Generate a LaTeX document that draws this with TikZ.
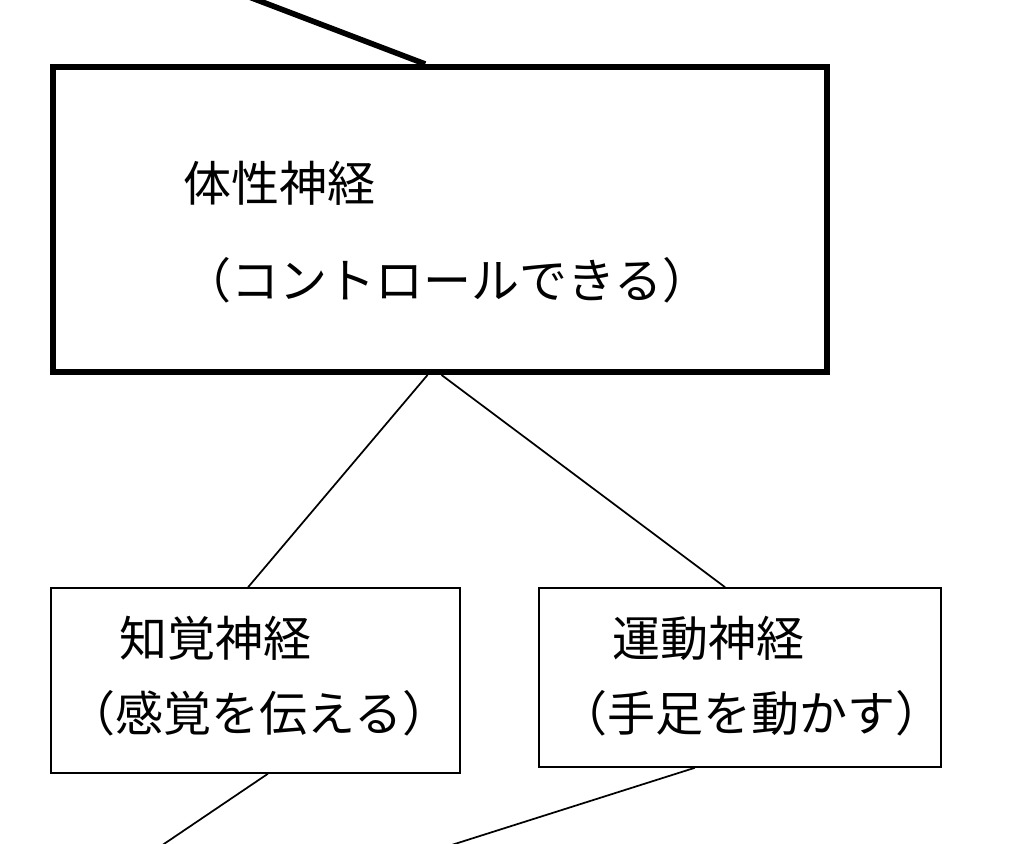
\documentclass[tikz,border=0pt]{standalone}
\usepackage{fontspec}
\setmainfont{Noto Sans CJK JP}
\usetikzlibrary{calc}
\begin{document}
\begin{tikzpicture}[x=0.75pt,y=-0.75pt,
  bigbox/.style={draw,line width=4.5pt,rectangle,inner sep=0pt,minimum width=580.5pt,minimum height=228.75pt},
  smallbox/.style={draw,line width=1.2pt,rectangle,inner sep=0pt},
  lbl/.style={inner sep=0pt,font=\fontsize{36pt}{42pt}\selectfont},
  thin/.style={line width=1.3pt},
  thick/.style={line width=4.2pt}]
\useasboundingbox (0,0) rectangle (1024,843);
\fill[white] (0,0) rectangle (1024,843);
\node[bigbox] (big) at (440,219.5) {};
\node[smallbox,minimum width=306.75pt,minimum height=138.75pt] (left) at (255.5,680.5) {};
\node[smallbox,minimum width=301.5pt,minimum height=134.25pt] (right) at (740,677.5) {};
\node[lbl] (t1) at (279,183) {体性神経};
\node[lbl] (t2) at (447,280) {（コントロールできる）};
\node[lbl] (l1) at (215,638) {知覚神経};
\node[lbl] (l2) at (259,713) {（感覚を伝える）};
\node[lbl] (r1) at (708,638) {運動神経};
\node[lbl] (r2) at (751,713) {（手足を動かす）};
\coordinate (top) at (244,-5);
\coordinate (bl) at (158,848);
\coordinate (br) at (442,848);
\draw[thick] (top) -- ($(big.north west)!0.481!(big.north east)$);
\draw[thin] ($(big.south west)!0.484!(big.south east)$) -- ($(left.north west)!0.482!(left.north east)$);
\draw[thin] ($(big.south west)!0.502!(big.south east)$) -- ($(right.north west)!0.463!(right.north east)$);
\draw[thin] ($(left.south west)!0.53!(left.south east)$) -- (bl);
\draw[thin] ($(right.south west)!0.388!(right.south east)$) -- (br);
\end{tikzpicture}
\end{document}
